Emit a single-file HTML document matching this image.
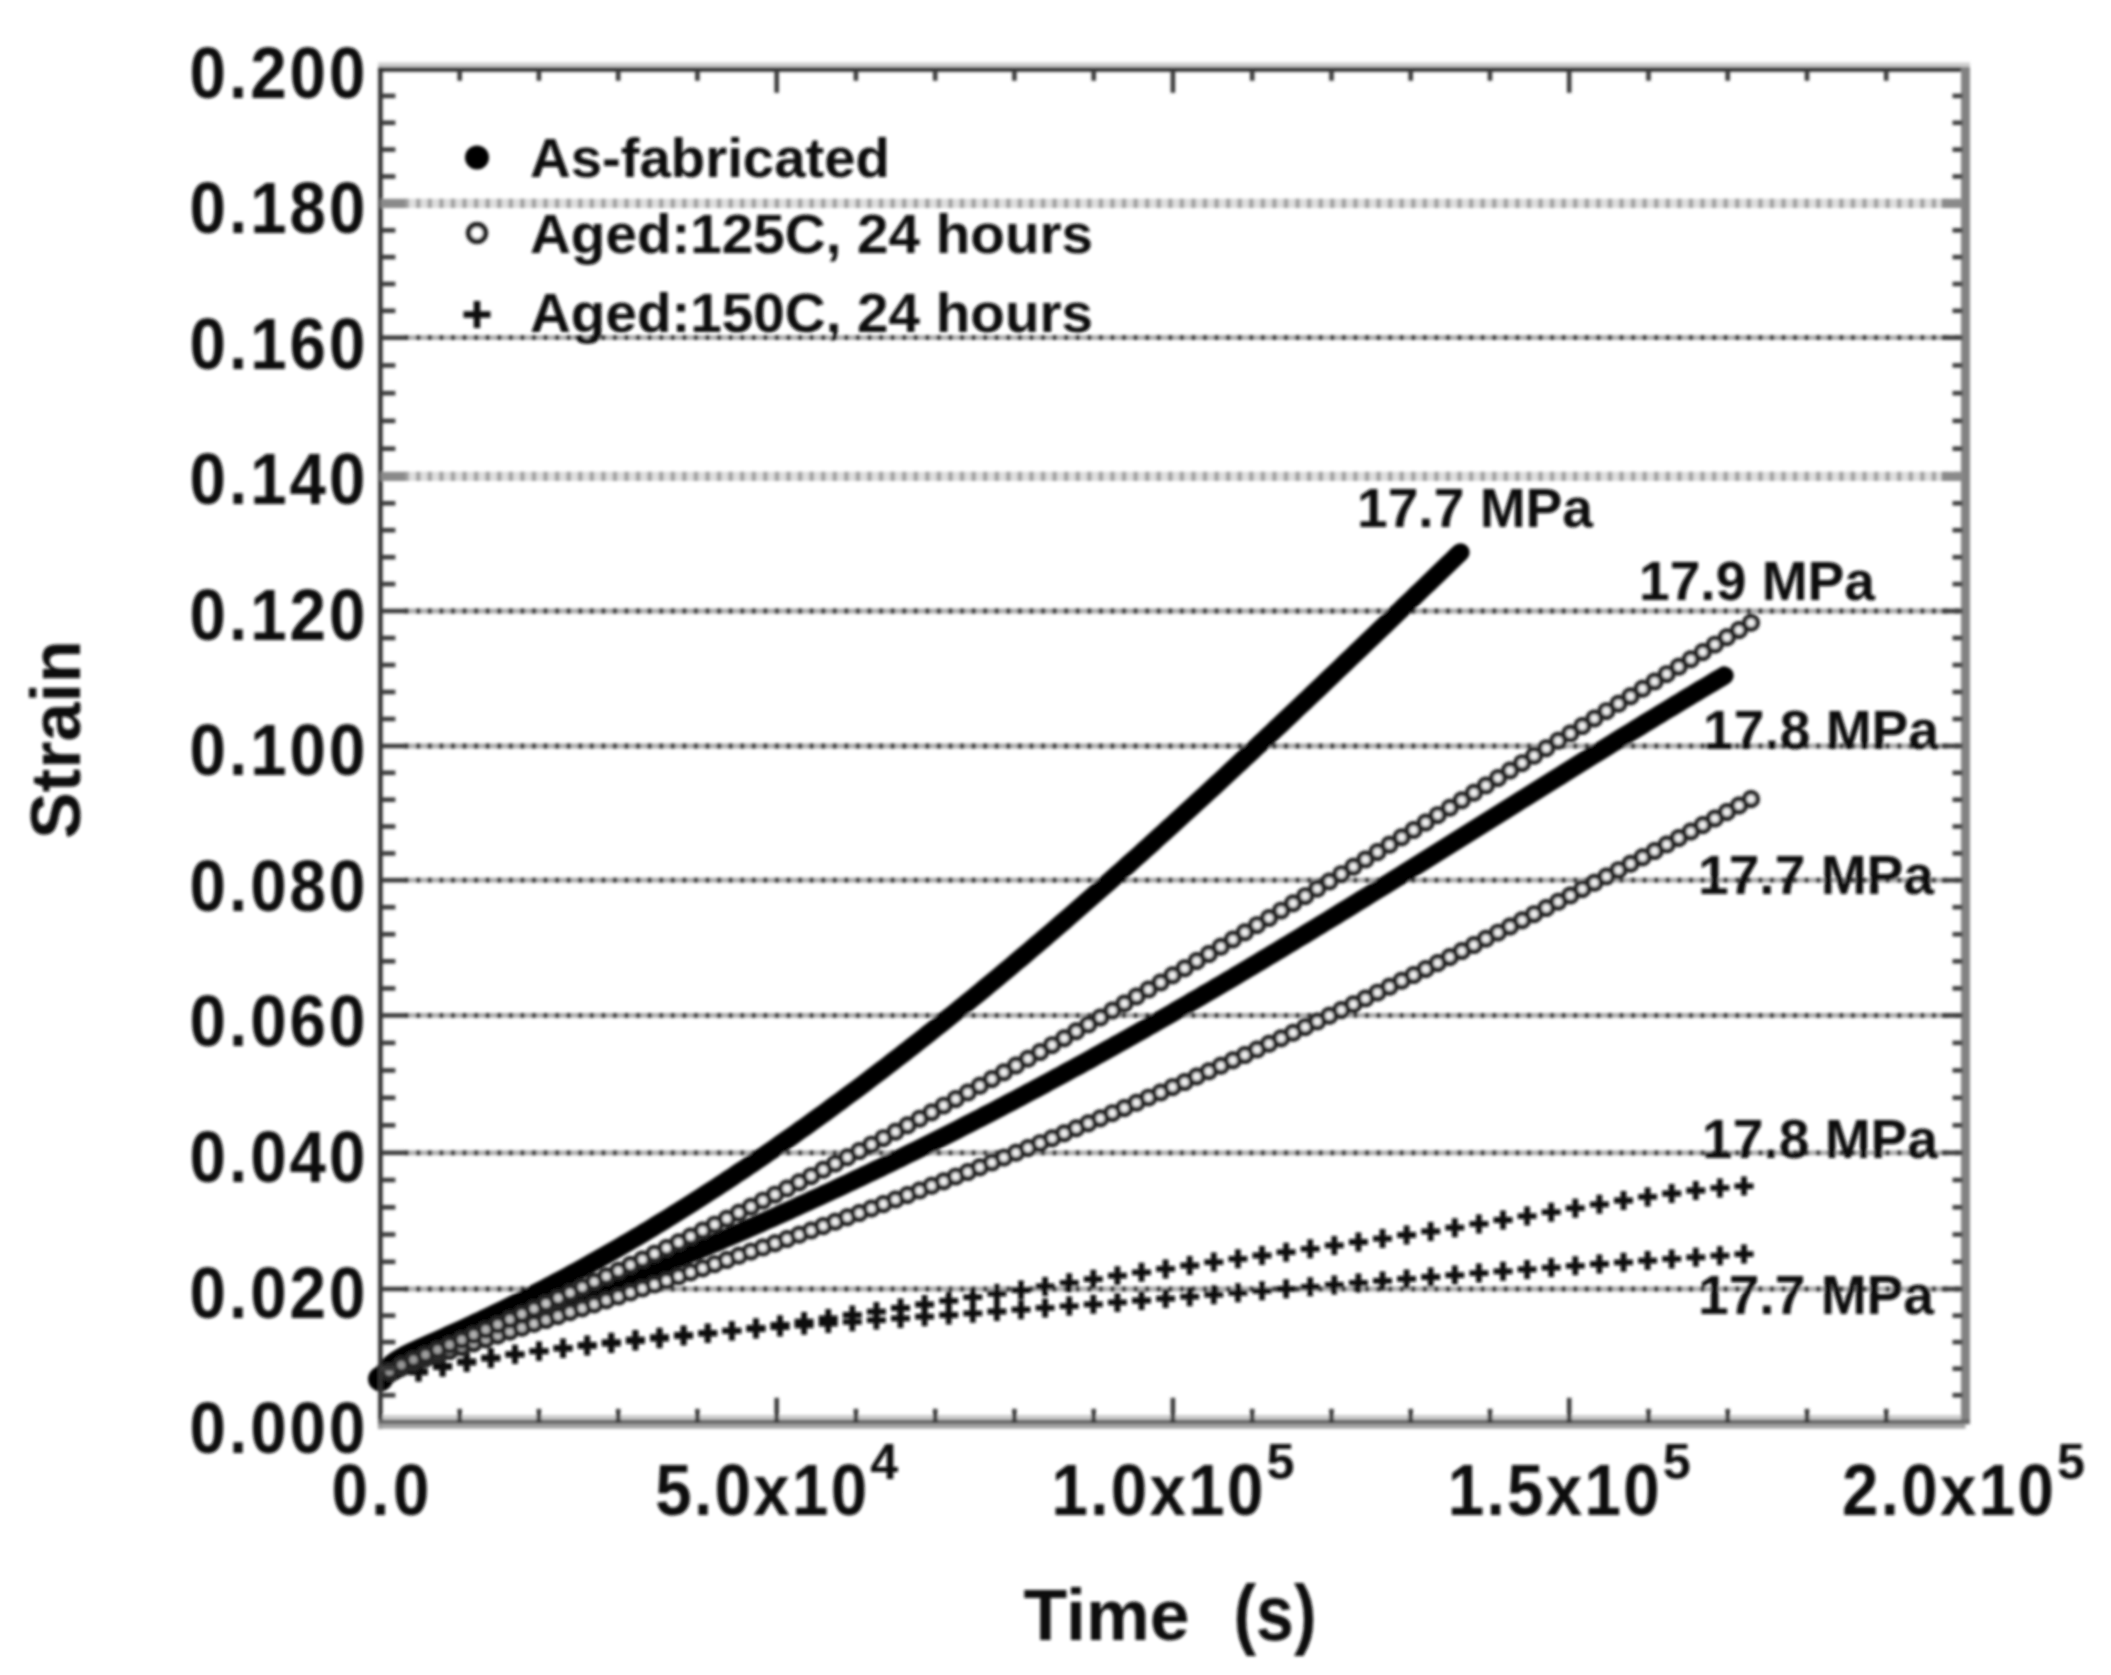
<!DOCTYPE html>
<html lang="en"><head><meta charset="utf-8"><title>Creep strain vs time</title>
<style>html,body{margin:0;padding:0;background:#fff}body{width:2111px;height:1675px;overflow:hidden}svg{display:block}text{font-family:"Liberation Sans", Arial, Helvetica, sans-serif;font-weight:bold;fill:#111}</style></head><body>
<svg width="2111" height="1675" viewBox="0 0 2111 1675">
<defs><filter id="bl" x="-2%" y="-2%" width="104%" height="104%"><feGaussianBlur stdDeviation="1.8"/></filter></defs>
<rect width="2111" height="1675" fill="#fff"/>
<g filter="url(#bl)">
<g id="grid">
<line x1="404.4" y1="203.4" x2="1961.5" y2="203.4" stroke="#dedede" stroke-width="9.2"/>
<line x1="404.4" y1="203.4" x2="1961.5" y2="203.4" stroke="#a2a2a2" stroke-width="9.2" stroke-dasharray="4.6 6.97"/>
<line x1="404.4" y1="337.7" x2="1961.5" y2="337.7" stroke="#b0b0b0" stroke-width="4.8"/>
<line x1="404.4" y1="337.7" x2="1961.5" y2="337.7" stroke="#383838" stroke-width="4.8" stroke-dasharray="4.6 6.97"/>
<line x1="404.4" y1="476.4" x2="1961.5" y2="476.4" stroke="#dedede" stroke-width="9.2"/>
<line x1="404.4" y1="476.4" x2="1961.5" y2="476.4" stroke="#a2a2a2" stroke-width="9.2" stroke-dasharray="4.6 6.97"/>
<line x1="404.4" y1="611.0" x2="1961.5" y2="611.0" stroke="#b0b0b0" stroke-width="4.8"/>
<line x1="404.4" y1="611.0" x2="1961.5" y2="611.0" stroke="#383838" stroke-width="4.8" stroke-dasharray="4.6 6.97"/>
<line x1="404.4" y1="746.0" x2="1961.5" y2="746.0" stroke="#b0b0b0" stroke-width="4.8"/>
<line x1="404.4" y1="746.0" x2="1961.5" y2="746.0" stroke="#383838" stroke-width="4.8" stroke-dasharray="4.6 6.97"/>
<line x1="404.4" y1="880.2" x2="1961.5" y2="880.2" stroke="#b0b0b0" stroke-width="4.8"/>
<line x1="404.4" y1="880.2" x2="1961.5" y2="880.2" stroke="#383838" stroke-width="4.8" stroke-dasharray="4.6 6.97"/>
<line x1="404.4" y1="1015.4" x2="1961.5" y2="1015.4" stroke="#b0b0b0" stroke-width="4.8"/>
<line x1="404.4" y1="1015.4" x2="1961.5" y2="1015.4" stroke="#383838" stroke-width="4.8" stroke-dasharray="4.6 6.97"/>
<line x1="404.4" y1="1152.8" x2="1961.5" y2="1152.8" stroke="#b0b0b0" stroke-width="4.8"/>
<line x1="404.4" y1="1152.8" x2="1961.5" y2="1152.8" stroke="#383838" stroke-width="4.8" stroke-dasharray="4.6 6.97"/>
<line x1="404.4" y1="1289.0" x2="1961.5" y2="1289.0" stroke="#b0b0b0" stroke-width="4.8"/>
<line x1="404.4" y1="1289.0" x2="1961.5" y2="1289.0" stroke="#383838" stroke-width="4.8" stroke-dasharray="4.6 6.97"/>
</g>
<g id="series-plus">
<path d="M1734.5 1254.1h19.0M1744.0 1244.6v19.0M1710.4 1255.7h19.0M1719.9 1246.2v19.0M1686.3 1257.3h19.0M1695.8 1247.8v19.0M1662.2 1258.9h19.0M1671.7 1249.4v19.0M1638.1 1260.6h19.0M1647.6 1251.1v19.0M1614.0 1262.3h19.0M1623.5 1252.8v19.0M1589.9 1264.0h19.0M1599.4 1254.5v19.0M1565.8 1265.8h19.0M1575.3 1256.3v19.0M1541.7 1267.6h19.0M1551.2 1258.1v19.0M1517.6 1269.4h19.0M1527.1 1259.9v19.0M1493.5 1271.3h19.0M1503.0 1261.8v19.0M1469.4 1273.1h19.0M1478.9 1263.6v19.0M1445.3 1275.1h19.0M1454.8 1265.6v19.0M1421.2 1277.0h19.0M1430.7 1267.5v19.0M1397.1 1278.9h19.0M1406.6 1269.4v19.0M1373.0 1280.9h19.0M1382.5 1271.4v19.0M1348.9 1282.9h19.0M1358.4 1273.4v19.0M1324.8 1284.9h19.0M1334.3 1275.4v19.0M1300.7 1286.8h19.0M1310.2 1277.3v19.0M1276.6 1288.8h19.0M1286.1 1279.3v19.0M1252.5 1290.8h19.0M1262.0 1281.3v19.0M1228.4 1292.8h19.0M1237.9 1283.3v19.0M1204.3 1294.7h19.0M1213.8 1285.2v19.0M1180.2 1296.7h19.0M1189.7 1287.2v19.0M1156.1 1298.6h19.0M1165.6 1289.1v19.0M1132.0 1300.5h19.0M1141.5 1291.0v19.0M1107.9 1302.4h19.0M1117.4 1292.9v19.0M1083.8 1304.3h19.0M1093.3 1294.8v19.0M1059.7 1306.1h19.0M1069.2 1296.6v19.0M1035.6 1307.9h19.0M1045.1 1298.4v19.0M1011.5 1309.7h19.0M1021.0 1300.2v19.0M987.4 1311.5h19.0M996.9 1302.0v19.0M963.3 1313.3h19.0M972.8 1303.8v19.0M939.2 1315.0h19.0M948.7 1305.5v19.0M915.1 1316.7h19.0M924.6 1307.2v19.0M891.0 1318.4h19.0M900.5 1308.9v19.0M866.9 1320.1h19.0M876.4 1310.6v19.0M842.8 1321.8h19.0M852.3 1312.3v19.0M818.7 1323.6h19.0M828.2 1314.1v19.0M794.6 1325.3h19.0M804.1 1315.8v19.0M770.5 1327.1h19.0M780.0 1317.6v19.0M746.4 1329.0h19.0M755.9 1319.5v19.0M722.3 1330.9h19.0M731.8 1321.4v19.0M698.2 1332.9h19.0M707.7 1323.4v19.0M674.1 1335.0h19.0M683.6 1325.5v19.0M650.0 1337.2h19.0M659.5 1327.7v19.0M625.9 1339.6h19.0M635.4 1330.1v19.0M601.8 1342.2h19.0M611.3 1332.7v19.0M577.7 1344.9h19.0M587.2 1335.4v19.0M553.6 1347.9h19.0M563.1 1338.4v19.0M529.5 1351.1h19.0M539.0 1341.6v19.0M505.4 1354.6h19.0M514.9 1345.1v19.0M481.3 1358.5h19.0M490.8 1349.0v19.0M457.2 1362.6h19.0M466.7 1353.1v19.0M433.1 1367.2h19.0M442.6 1357.7v19.0M409.0 1372.3h19.0M418.5 1362.8v19.0" stroke="#0c0c0c" stroke-width="5.8" fill="none"/>
<path d="M1734.5 1186.1h19.0M1744.0 1176.6v19.0M1710.4 1187.9h19.0M1719.9 1178.4v19.0M1686.3 1190.5h19.0M1695.8 1181.0v19.0M1662.2 1193.5h19.0M1671.7 1184.0v19.0M1638.1 1196.9h19.0M1647.6 1187.4v19.0M1614.0 1200.5h19.0M1623.5 1191.0v19.0M1589.9 1204.3h19.0M1599.4 1194.8v19.0M1565.8 1208.2h19.0M1575.3 1198.7v19.0M1541.7 1212.2h19.0M1551.2 1202.7v19.0M1517.6 1216.1h19.0M1527.1 1206.6v19.0M1493.5 1220.0h19.0M1503.0 1210.5v19.0M1469.4 1223.9h19.0M1478.9 1214.4v19.0M1445.3 1227.7h19.0M1454.8 1218.2v19.0M1421.2 1231.4h19.0M1430.7 1221.9v19.0M1397.1 1235.0h19.0M1406.6 1225.5v19.0M1373.0 1238.6h19.0M1382.5 1229.1v19.0M1348.9 1242.0h19.0M1358.4 1232.5v19.0M1324.8 1245.4h19.0M1334.3 1235.9v19.0M1300.7 1248.8h19.0M1310.2 1239.3v19.0M1276.6 1252.2h19.0M1286.1 1242.7v19.0M1252.5 1255.5h19.0M1262.0 1246.0v19.0M1228.4 1258.8h19.0M1237.9 1249.3v19.0M1204.3 1262.1h19.0M1213.8 1252.6v19.0M1180.2 1265.5h19.0M1189.7 1256.0v19.0M1156.1 1268.9h19.0M1165.6 1259.4v19.0M1132.0 1272.3h19.0M1141.5 1262.8v19.0M1107.9 1275.7h19.0M1117.4 1266.2v19.0M1083.8 1279.2h19.0M1093.3 1269.7v19.0M1059.7 1282.8h19.0M1069.2 1273.3v19.0M1035.6 1286.4h19.0M1045.1 1276.9v19.0M1011.5 1290.0h19.0M1021.0 1280.5v19.0M987.4 1293.6h19.0M996.9 1284.1v19.0M963.3 1297.2h19.0M972.8 1287.7v19.0M939.2 1300.9h19.0M948.7 1291.4v19.0M915.1 1304.5h19.0M924.6 1295.0v19.0M891.0 1308.0h19.0M900.5 1298.5v19.0M866.9 1311.6h19.0M876.4 1302.1v19.0M842.8 1315.0h19.0M852.3 1305.5v19.0M818.7 1318.4h19.0M828.2 1308.9v19.0M794.6 1321.6h19.0M804.1 1312.1v19.0M770.5 1324.8h19.0M780.0 1315.3v19.0M746.4 1327.8h19.0M755.9 1318.3v19.0M722.3 1330.7h19.0M731.8 1321.2v19.0M698.2 1333.5h19.0M707.7 1324.0v19.0M674.1 1336.1h19.0M683.6 1326.6v19.0M650.0 1338.7h19.0M659.5 1329.2v19.0M625.9 1341.1h19.0M635.4 1331.6v19.0M601.8 1343.6h19.0M611.3 1334.1v19.0M577.7 1346.0h19.0M587.2 1336.5v19.0M553.6 1348.6h19.0M563.1 1339.1v19.0M529.5 1351.3h19.0M539.0 1341.8v19.0M505.4 1354.2h19.0M514.9 1344.7v19.0M481.3 1357.6h19.0M490.8 1348.1v19.0M457.2 1361.5h19.0M466.7 1352.0v19.0M433.1 1366.0h19.0M442.6 1356.5v19.0M409.0 1371.5h19.0M418.5 1362.0v19.0" stroke="#0c0c0c" stroke-width="5.8" fill="none"/>
</g>
<g id="series-filled" fill="none" stroke="#060606" stroke-width="18.5" stroke-linecap="round" stroke-linejoin="round">
<path d="M380.4 1378.0 L384.4 1371.4 L388.4 1366.6 L392.4 1362.9 L396.4 1360.0 L400.4 1357.5 L404.4 1355.3 L408.4 1353.3 L412.4 1351.4 L416.4 1349.5 L420.4 1347.7 L424.4 1346.0 L428.4 1344.2 L432.4 1342.4 L436.4 1340.7 L440.4 1338.9 L444.4 1337.1 L448.4 1335.3 L452.4 1333.5 L456.4 1331.7 L460.4 1329.9 L464.4 1328.0 L468.4 1326.2 L472.4 1324.3 L476.4 1322.4 L480.4 1320.6 L484.4 1318.7 L488.4 1316.7 L492.4 1314.8 L496.4 1312.9 L500.4 1310.9 L504.4 1309.0 L508.4 1307.0 L512.4 1305.0 L516.4 1303.0 L520.4 1301.0 L524.4 1299.0 L528.4 1296.9 L532.4 1294.9 L536.4 1292.8 L540.4 1290.7 L544.4 1288.6 L548.4 1286.5 L552.4 1284.4 L556.4 1282.3 L560.4 1280.2 L564.4 1278.0 L568.4 1275.9 L572.4 1273.7 L576.4 1271.5 L580.4 1269.3 L584.4 1267.1 L588.4 1264.9 L592.4 1262.6 L596.4 1260.4 L600.4 1258.1 L604.4 1255.9 L608.4 1253.6 L612.4 1251.3 L616.4 1249.0 L620.4 1246.6 L624.4 1244.3 L628.4 1242.0 L632.4 1239.6 L636.4 1237.2 L640.4 1234.9 L644.4 1232.5 L648.4 1230.1 L652.4 1227.7 L656.4 1225.2 L660.4 1222.8 L664.4 1220.3 L668.4 1217.9 L672.4 1215.4 L676.4 1212.9 L680.4 1210.4 L684.4 1207.9 L688.4 1205.4 L692.4 1202.9 L696.4 1200.3 L700.4 1197.7 L704.4 1195.2 L708.4 1192.6 L712.4 1190.0 L716.4 1187.4 L720.4 1184.8 L724.4 1182.2 L728.4 1179.5 L732.4 1176.9 L736.4 1174.2 L740.4 1171.5 L744.4 1168.9 L748.4 1166.2 L752.4 1163.5 L756.4 1160.7 L760.4 1158.0 L764.4 1155.3 L768.4 1152.5 L772.4 1149.8 L776.4 1147.0 L780.4 1144.2 L784.4 1141.4 L788.4 1138.6 L792.4 1135.8 L796.4 1133.0 L800.4 1130.1 L804.4 1127.3 L808.4 1124.4 L812.4 1121.5 L816.4 1118.7 L820.4 1115.8 L824.4 1112.9 L828.4 1110.0 L832.4 1107.0 L836.4 1104.1 L840.4 1101.2 L844.4 1098.2 L848.4 1095.2 L852.4 1092.3 L856.4 1089.3 L860.4 1086.3 L864.4 1083.3 L868.4 1080.2 L872.4 1077.2 L876.4 1074.2 L880.4 1071.1 L884.4 1068.1 L888.4 1065.0 L892.4 1061.9 L896.4 1058.8 L900.4 1055.7 L904.4 1052.6 L908.4 1049.5 L912.4 1046.4 L916.4 1043.3 L920.4 1040.1 L924.4 1037.0 L928.4 1033.8 L932.4 1030.6 L936.4 1027.4 L940.4 1024.2 L944.4 1021.0 L948.4 1017.8 L952.4 1014.6 L956.4 1011.4 L960.4 1008.1 L964.4 1004.9 L968.4 1001.6 L972.4 998.4 L976.4 995.1 L980.4 991.8 L984.4 988.5 L988.4 985.2 L992.4 981.9 L996.4 978.6 L1000.4 975.2 L1004.4 971.9 L1008.4 968.6 L1012.4 965.2 L1016.4 961.8 L1020.4 958.5 L1024.4 955.1 L1028.4 951.7 L1032.4 948.3 L1036.4 944.9 L1040.4 941.5 L1044.4 938.1 L1048.4 934.6 L1052.4 931.2 L1056.4 927.8 L1060.4 924.3 L1064.4 920.9 L1068.4 917.4 L1072.4 913.9 L1076.4 910.4 L1080.4 906.9 L1084.4 903.4 L1088.4 899.9 L1092.4 896.4 L1096.4 892.9 L1100.4 889.4 L1104.4 885.9 L1108.4 882.3 L1112.4 878.8 L1116.4 875.2 L1120.4 871.7 L1124.4 868.1 L1128.4 864.5 L1132.4 860.9 L1136.4 857.4 L1140.4 853.8 L1144.4 850.2 L1148.4 846.6 L1152.4 843.0 L1156.4 839.3 L1160.4 835.7 L1164.4 832.1 L1168.4 828.4 L1172.4 824.8 L1176.4 821.2 L1180.4 817.5 L1184.4 813.8 L1188.4 810.2 L1192.4 806.5 L1196.4 802.8 L1200.4 799.2 L1204.4 795.5 L1208.4 791.8 L1212.4 788.1 L1216.4 784.4 L1220.4 780.7 L1224.4 777.0 L1228.4 773.3 L1232.4 769.5 L1236.4 765.8 L1240.4 762.1 L1244.4 758.3 L1248.4 754.6 L1252.4 750.9 L1256.4 747.1 L1260.4 743.4 L1264.4 739.6 L1268.4 735.9 L1272.4 732.1 L1276.4 728.3 L1280.4 724.6 L1284.4 720.8 L1288.4 717.0 L1292.4 713.2 L1296.4 709.4 L1300.4 705.6 L1304.4 701.9 L1308.4 698.1 L1312.4 694.3 L1316.4 690.5 L1320.4 686.7 L1324.4 682.8 L1328.4 679.0 L1332.4 675.2 L1336.4 671.4 L1340.4 667.6 L1344.4 663.8 L1348.4 659.9 L1352.4 656.1 L1356.4 652.3 L1360.4 648.5 L1364.4 644.6 L1368.4 640.8 L1372.4 637.0 L1376.4 633.1 L1380.4 629.3 L1384.4 625.5 L1388.4 621.6 L1392.4 617.8 L1396.4 613.9 L1400.4 610.1 L1404.4 606.2 L1408.4 602.4 L1412.4 598.6 L1416.4 594.7 L1420.4 590.9 L1424.4 587.0 L1428.4 583.2 L1432.4 579.3 L1436.4 575.5 L1440.4 571.6 L1444.4 567.8 L1448.4 563.9 L1452.4 560.1 L1456.4 556.2 L1460.4 552.4"/>
<path d="M380.4 1381.5 L384.4 1377.5 L388.4 1374.4 L392.4 1371.9 L396.4 1369.7 L400.4 1367.8 L404.4 1366.0 L408.4 1364.4 L412.4 1362.8 L416.4 1361.2 L420.4 1359.7 L424.4 1358.1 L428.4 1356.6 L432.4 1355.1 L436.4 1353.6 L440.4 1352.1 L444.4 1350.6 L448.4 1349.1 L452.4 1347.6 L456.4 1346.1 L460.4 1344.6 L464.4 1343.1 L468.4 1341.6 L472.4 1340.0 L476.4 1338.5 L480.4 1337.0 L484.4 1335.5 L488.4 1334.0 L492.4 1332.5 L496.4 1330.9 L500.4 1329.4 L504.4 1327.9 L508.4 1326.4 L512.4 1324.8 L516.4 1323.3 L520.4 1321.7 L524.4 1320.2 L528.4 1318.7 L532.4 1317.1 L536.4 1315.6 L540.4 1314.0 L544.4 1312.5 L548.4 1310.9 L552.4 1309.4 L556.4 1307.8 L560.4 1306.2 L564.4 1304.7 L568.4 1303.1 L572.4 1301.5 L576.4 1299.9 L580.4 1298.4 L584.4 1296.8 L588.4 1295.2 L592.4 1293.6 L596.4 1292.0 L600.4 1290.4 L604.4 1288.8 L608.4 1287.2 L612.4 1285.6 L616.4 1284.0 L620.4 1282.4 L624.4 1280.8 L628.4 1279.1 L632.4 1277.5 L636.4 1275.9 L640.4 1274.2 L644.4 1272.6 L648.4 1271.0 L652.4 1269.3 L656.4 1267.7 L660.4 1266.0 L664.4 1264.3 L668.4 1262.7 L672.4 1261.0 L676.4 1259.3 L680.4 1257.7 L684.4 1256.0 L688.4 1254.3 L692.4 1252.6 L696.4 1250.9 L700.4 1249.2 L704.4 1247.5 L708.4 1245.8 L712.4 1244.1 L716.4 1242.4 L720.4 1240.7 L724.4 1238.9 L728.4 1237.2 L732.4 1235.5 L736.4 1233.7 L740.4 1232.0 L744.4 1230.2 L748.4 1228.5 L752.4 1226.7 L756.4 1225.0 L760.4 1223.2 L764.4 1221.4 L768.4 1219.6 L772.4 1217.9 L776.4 1216.1 L780.4 1214.3 L784.4 1212.5 L788.4 1210.7 L792.4 1208.9 L796.4 1207.1 L800.4 1205.2 L804.4 1203.4 L808.4 1201.6 L812.4 1199.7 L816.4 1197.9 L820.4 1196.1 L824.4 1194.2 L828.4 1192.4 L832.4 1190.5 L836.4 1188.6 L840.4 1186.8 L844.4 1184.9 L848.4 1183.0 L852.4 1181.1 L856.4 1179.2 L860.4 1177.3 L864.4 1175.4 L868.4 1173.5 L872.4 1171.6 L876.4 1169.7 L880.4 1167.8 L884.4 1165.8 L888.4 1163.9 L892.4 1161.9 L896.4 1160.0 L900.4 1158.1 L904.4 1156.1 L908.4 1154.1 L912.4 1152.2 L916.4 1150.2 L920.4 1148.2 L924.4 1146.2 L928.4 1144.2 L932.4 1142.2 L936.4 1140.2 L940.4 1138.2 L944.4 1136.2 L948.4 1134.2 L952.4 1132.2 L956.4 1130.2 L960.4 1128.1 L964.4 1126.1 L968.4 1124.0 L972.4 1122.0 L976.4 1119.9 L980.4 1117.9 L984.4 1115.8 L988.4 1113.7 L992.4 1111.7 L996.4 1109.6 L1000.4 1107.5 L1004.4 1105.4 L1008.4 1103.3 L1012.4 1101.2 L1016.4 1099.1 L1020.4 1097.0 L1024.4 1094.9 L1028.4 1092.7 L1032.4 1090.6 L1036.4 1088.5 L1040.4 1086.3 L1044.4 1084.2 L1048.4 1082.0 L1052.4 1079.9 L1056.4 1077.7 L1060.4 1075.6 L1064.4 1073.4 L1068.4 1071.2 L1072.4 1069.0 L1076.4 1066.8 L1080.4 1064.7 L1084.4 1062.5 L1088.4 1060.3 L1092.4 1058.1 L1096.4 1055.8 L1100.4 1053.6 L1104.4 1051.4 L1108.4 1049.2 L1112.4 1046.9 L1116.4 1044.7 L1120.4 1042.5 L1124.4 1040.2 L1128.4 1038.0 L1132.4 1035.7 L1136.4 1033.5 L1140.4 1031.2 L1144.4 1028.9 L1148.4 1026.6 L1152.4 1024.4 L1156.4 1022.1 L1160.4 1019.8 L1164.4 1017.5 L1168.4 1015.2 L1172.4 1012.9 L1176.4 1010.6 L1180.4 1008.3 L1184.4 1006.0 L1188.4 1003.7 L1192.4 1001.3 L1196.4 999.0 L1200.4 996.7 L1204.4 994.3 L1208.4 992.0 L1212.4 989.7 L1216.4 987.3 L1220.4 985.0 L1224.4 982.6 L1228.4 980.2 L1232.4 977.9 L1236.4 975.5 L1240.4 973.1 L1244.4 970.8 L1248.4 968.4 L1252.4 966.0 L1256.4 963.6 L1260.4 961.2 L1264.4 958.8 L1268.4 956.4 L1272.4 954.0 L1276.4 951.6 L1280.4 949.2 L1284.4 946.8 L1288.4 944.4 L1292.4 942.0 L1296.4 939.5 L1300.4 937.1 L1304.4 934.7 L1308.4 932.3 L1312.4 929.8 L1316.4 927.4 L1320.4 925.0 L1324.4 922.5 L1328.4 920.1 L1332.4 917.6 L1336.4 915.2 L1340.4 912.7 L1344.4 910.3 L1348.4 907.8 L1352.4 905.3 L1356.4 902.9 L1360.4 900.4 L1364.4 898.0 L1368.4 895.5 L1372.4 893.0 L1376.4 890.5 L1380.4 888.1 L1384.4 885.6 L1388.4 883.1 L1392.4 880.6 L1396.4 878.1 L1400.4 875.7 L1404.4 873.2 L1408.4 870.7 L1412.4 868.2 L1416.4 865.7 L1420.4 863.2 L1424.4 860.7 L1428.4 858.2 L1432.4 855.7 L1436.4 853.2 L1440.4 850.7 L1444.4 848.2 L1448.4 845.7 L1452.4 843.2 L1456.4 840.7 L1460.4 838.2 L1464.4 835.7 L1468.4 833.2 L1472.4 830.7 L1476.4 828.2 L1480.4 825.7 L1484.4 823.2 L1488.4 820.7 L1492.4 818.2 L1496.4 815.7 L1500.4 813.2 L1504.4 810.7 L1508.4 808.2 L1512.4 805.7 L1516.4 803.2 L1520.4 800.6 L1524.4 798.1 L1528.4 795.6 L1532.4 793.1 L1536.4 790.6 L1540.4 788.1 L1544.4 785.6 L1548.4 783.1 L1552.4 780.6 L1556.4 778.1 L1560.4 775.7 L1564.4 773.2 L1568.4 770.7 L1572.4 768.2 L1576.4 765.7 L1580.4 763.2 L1584.4 760.7 L1588.4 758.2 L1592.4 755.7 L1596.4 753.3 L1600.4 750.8 L1604.4 748.3 L1608.4 745.8 L1612.4 743.4 L1616.4 740.9 L1620.4 738.4 L1624.4 736.0 L1628.4 733.5 L1632.4 731.1 L1636.4 728.6 L1640.4 726.2 L1644.4 723.7 L1648.4 721.3 L1652.4 718.8 L1656.4 716.4 L1660.4 714.0 L1664.4 711.5 L1668.4 709.1 L1672.4 706.7 L1676.4 704.3 L1680.4 701.9 L1684.4 699.4 L1688.4 697.0 L1692.4 694.6 L1696.4 692.2 L1700.4 689.8 L1704.4 687.5 L1708.4 685.1 L1712.4 682.7 L1716.4 680.3 L1720.4 678.0 L1724.4 675.6"/>
</g>
<circle cx="380.5" cy="1379" r="12.5" fill="#060606"/>
<g id="series-open">
<g fill="#ececec" stroke="#262626" stroke-width="5.2"><circle cx="389.4" cy="1372.3" r="6.6" fill="#969696"/><circle cx="401.4" cy="1366.8" r="6.6" fill="#969696"/><circle cx="413.5" cy="1362.6" r="6.6" fill="#9a9a9a"/><circle cx="425.5" cy="1358.6" r="6.6" fill="#9e9e9e"/><circle cx="437.6" cy="1354.7" r="6.6" fill="#a2a2a2"/><circle cx="449.6" cy="1350.9" r="6.6" fill="#a6a6a6"/><circle cx="461.7" cy="1347.0" r="6.6" fill="#aaaaaa"/><circle cx="473.7" cy="1343.2" r="6.6" fill="#aeaeae"/><circle cx="485.8" cy="1339.3" r="6.6" fill="#b2b2b2"/><circle cx="497.8" cy="1335.5" r="6.6" fill="#b6b6b6"/><circle cx="509.9" cy="1331.6" r="6.6" fill="#bababa"/><circle cx="521.9" cy="1327.7" r="6.6" fill="#bebebe"/><circle cx="534.0" cy="1323.8" r="6.6" fill="#c2c2c2"/><circle cx="546.0" cy="1319.9" r="6.6" fill="#c6c6c6"/><circle cx="558.1" cy="1316.1" r="6.6" fill="#cacaca"/><circle cx="570.1" cy="1312.1" r="6.6" fill="#cecece"/><circle cx="582.2" cy="1308.2" r="6.6" fill="#d2d2d2"/><circle cx="594.2" cy="1304.3" r="6.6" fill="#d6d6d6"/><circle cx="606.3" cy="1300.3" r="6.6" fill="#dadada"/><circle cx="618.3" cy="1296.4" r="6.6" fill="#dedede"/><circle cx="630.4" cy="1292.4" r="6.6" fill="#e2e2e2"/><circle cx="642.4" cy="1288.4" r="6.6" fill="#e6e6e6"/><circle cx="654.5" cy="1284.4" r="6.6" fill="#eaeaea"/><circle cx="666.5" cy="1280.4" r="6.6"/><circle cx="678.6" cy="1276.3" r="6.6"/><circle cx="690.6" cy="1272.3" r="6.6"/><circle cx="702.7" cy="1268.2" r="6.6"/><circle cx="714.7" cy="1264.1" r="6.6"/><circle cx="726.8" cy="1259.9" r="6.6"/><circle cx="738.8" cy="1255.8" r="6.6"/><circle cx="750.9" cy="1251.6" r="6.6"/><circle cx="762.9" cy="1247.4" r="6.6"/><circle cx="775.0" cy="1243.2" r="6.6"/><circle cx="787.0" cy="1238.9" r="6.6"/><circle cx="799.1" cy="1234.7" r="6.6"/><circle cx="811.1" cy="1230.4" r="6.6"/><circle cx="823.2" cy="1226.0" r="6.6"/><circle cx="835.2" cy="1221.7" r="6.6"/><circle cx="847.3" cy="1217.3" r="6.6"/><circle cx="859.3" cy="1212.9" r="6.6"/><circle cx="871.4" cy="1208.5" r="6.6"/><circle cx="883.4" cy="1204.0" r="6.6"/><circle cx="895.5" cy="1199.5" r="6.6"/><circle cx="907.5" cy="1195.0" r="6.6"/><circle cx="919.6" cy="1190.4" r="6.6"/><circle cx="931.6" cy="1185.8" r="6.6"/><circle cx="943.7" cy="1181.2" r="6.6"/><circle cx="955.7" cy="1176.6" r="6.6"/><circle cx="967.8" cy="1171.9" r="6.6"/><circle cx="979.8" cy="1167.2" r="6.6"/><circle cx="991.9" cy="1162.4" r="6.6"/><circle cx="1003.9" cy="1157.6" r="6.6"/><circle cx="1016.0" cy="1152.8" r="6.6"/><circle cx="1028.0" cy="1148.0" r="6.6"/><circle cx="1040.1" cy="1143.1" r="6.6"/><circle cx="1052.1" cy="1138.2" r="6.6"/><circle cx="1064.2" cy="1133.2" r="6.6"/><circle cx="1076.2" cy="1128.2" r="6.6"/><circle cx="1088.3" cy="1123.2" r="6.6"/><circle cx="1100.3" cy="1118.2" r="6.6"/><circle cx="1112.4" cy="1113.1" r="6.6"/><circle cx="1124.4" cy="1108.0" r="6.6"/><circle cx="1136.5" cy="1102.8" r="6.6"/><circle cx="1148.5" cy="1097.6" r="6.6"/><circle cx="1160.6" cy="1092.4" r="6.6"/><circle cx="1172.6" cy="1087.1" r="6.6"/><circle cx="1184.7" cy="1081.9" r="6.6"/><circle cx="1196.7" cy="1076.5" r="6.6"/><circle cx="1208.8" cy="1071.2" r="6.6"/><circle cx="1220.8" cy="1065.8" r="6.6"/><circle cx="1232.9" cy="1060.3" r="6.6"/><circle cx="1244.9" cy="1054.9" r="6.6"/><circle cx="1257.0" cy="1049.4" r="6.6"/><circle cx="1269.0" cy="1043.8" r="6.6"/><circle cx="1281.1" cy="1038.3" r="6.6"/><circle cx="1293.1" cy="1032.7" r="6.6"/><circle cx="1305.2" cy="1027.0" r="6.6"/><circle cx="1317.2" cy="1021.4" r="6.6"/><circle cx="1329.3" cy="1015.7" r="6.6"/><circle cx="1341.3" cy="1010.0" r="6.6"/><circle cx="1353.4" cy="1004.2" r="6.6"/><circle cx="1365.4" cy="998.4" r="6.6"/><circle cx="1377.5" cy="992.6" r="6.6"/><circle cx="1389.5" cy="986.7" r="6.6"/><circle cx="1401.6" cy="980.8" r="6.6"/><circle cx="1413.6" cy="974.9" r="6.6"/><circle cx="1425.7" cy="969.0" r="6.6"/><circle cx="1437.7" cy="963.0" r="6.6"/><circle cx="1449.8" cy="957.0" r="6.6"/><circle cx="1461.8" cy="950.9" r="6.6"/><circle cx="1473.9" cy="944.9" r="6.6"/><circle cx="1485.9" cy="938.8" r="6.6"/><circle cx="1498.0" cy="932.6" r="6.6"/><circle cx="1510.0" cy="926.5" r="6.6"/><circle cx="1522.1" cy="920.3" r="6.6"/><circle cx="1534.1" cy="914.1" r="6.6"/><circle cx="1546.2" cy="907.9" r="6.6"/><circle cx="1558.2" cy="901.7" r="6.6"/><circle cx="1570.3" cy="895.4" r="6.6"/><circle cx="1582.3" cy="889.1" r="6.6"/><circle cx="1594.4" cy="882.8" r="6.6"/><circle cx="1606.4" cy="876.4" r="6.6"/><circle cx="1618.5" cy="870.1" r="6.6"/><circle cx="1630.5" cy="863.7" r="6.6"/><circle cx="1642.6" cy="857.3" r="6.6"/><circle cx="1654.6" cy="850.9" r="6.6"/><circle cx="1666.7" cy="844.4" r="6.6"/><circle cx="1678.7" cy="838.0" r="6.6"/><circle cx="1690.8" cy="831.5" r="6.6"/><circle cx="1702.8" cy="825.0" r="6.6"/><circle cx="1714.9" cy="818.5" r="6.6"/><circle cx="1726.9" cy="812.0" r="6.6"/><circle cx="1739.0" cy="805.5" r="6.6"/><circle cx="1751.0" cy="799.0" r="6.6"/></g>
<g fill="#ececec" stroke="#262626" stroke-width="5.2"><circle cx="389.4" cy="1371.5" r="6.6" fill="#969696"/><circle cx="401.4" cy="1365.0" r="6.6" fill="#969696"/><circle cx="413.5" cy="1359.8" r="6.6" fill="#9a9a9a"/><circle cx="425.5" cy="1354.8" r="6.6" fill="#9e9e9e"/><circle cx="437.6" cy="1349.8" r="6.6" fill="#a2a2a2"/><circle cx="449.6" cy="1344.8" r="6.6" fill="#a6a6a6"/><circle cx="461.7" cy="1339.8" r="6.6" fill="#aaaaaa"/><circle cx="473.7" cy="1334.7" r="6.6" fill="#aeaeae"/><circle cx="485.8" cy="1329.6" r="6.6" fill="#b2b2b2"/><circle cx="497.8" cy="1324.5" r="6.6" fill="#b6b6b6"/><circle cx="509.9" cy="1319.3" r="6.6" fill="#bababa"/><circle cx="521.9" cy="1314.1" r="6.6" fill="#bebebe"/><circle cx="534.0" cy="1308.8" r="6.6" fill="#c2c2c2"/><circle cx="546.0" cy="1303.5" r="6.6" fill="#c6c6c6"/><circle cx="558.1" cy="1298.1" r="6.6" fill="#cacaca"/><circle cx="570.1" cy="1292.7" r="6.6" fill="#cecece"/><circle cx="582.2" cy="1287.2" r="6.6" fill="#d2d2d2"/><circle cx="594.2" cy="1281.8" r="6.6" fill="#d6d6d6"/><circle cx="606.3" cy="1276.2" r="6.6" fill="#dadada"/><circle cx="618.3" cy="1270.7" r="6.6" fill="#dedede"/><circle cx="630.4" cy="1265.0" r="6.6" fill="#e2e2e2"/><circle cx="642.4" cy="1259.4" r="6.6" fill="#e6e6e6"/><circle cx="654.5" cy="1253.7" r="6.6" fill="#eaeaea"/><circle cx="666.5" cy="1248.0" r="6.6"/><circle cx="678.6" cy="1242.2" r="6.6"/><circle cx="690.6" cy="1236.4" r="6.6"/><circle cx="702.7" cy="1230.5" r="6.6"/><circle cx="714.7" cy="1224.6" r="6.6"/><circle cx="726.8" cy="1218.7" r="6.6"/><circle cx="738.8" cy="1212.7" r="6.6"/><circle cx="750.9" cy="1206.7" r="6.6"/><circle cx="762.9" cy="1200.6" r="6.6"/><circle cx="775.0" cy="1194.6" r="6.6"/><circle cx="787.0" cy="1188.4" r="6.6"/><circle cx="799.1" cy="1182.3" r="6.6"/><circle cx="811.1" cy="1176.1" r="6.6"/><circle cx="823.2" cy="1169.8" r="6.6"/><circle cx="835.2" cy="1163.6" r="6.6"/><circle cx="847.3" cy="1157.3" r="6.6"/><circle cx="859.3" cy="1150.9" r="6.6"/><circle cx="871.4" cy="1144.6" r="6.6"/><circle cx="883.4" cy="1138.1" r="6.6"/><circle cx="895.5" cy="1131.7" r="6.6"/><circle cx="907.5" cy="1125.2" r="6.6"/><circle cx="919.6" cy="1118.7" r="6.6"/><circle cx="931.6" cy="1112.2" r="6.6"/><circle cx="943.7" cy="1105.6" r="6.6"/><circle cx="955.7" cy="1099.0" r="6.6"/><circle cx="967.8" cy="1092.4" r="6.6"/><circle cx="979.8" cy="1085.7" r="6.6"/><circle cx="991.9" cy="1079.0" r="6.6"/><circle cx="1003.9" cy="1072.3" r="6.6"/><circle cx="1016.0" cy="1065.5" r="6.6"/><circle cx="1028.0" cy="1058.7" r="6.6"/><circle cx="1040.1" cy="1051.9" r="6.6"/><circle cx="1052.1" cy="1045.1" r="6.6"/><circle cx="1064.2" cy="1038.2" r="6.6"/><circle cx="1076.2" cy="1031.3" r="6.6"/><circle cx="1088.3" cy="1024.4" r="6.6"/><circle cx="1100.3" cy="1017.5" r="6.6"/><circle cx="1112.4" cy="1010.5" r="6.6"/><circle cx="1124.4" cy="1003.5" r="6.6"/><circle cx="1136.5" cy="996.5" r="6.6"/><circle cx="1148.5" cy="989.4" r="6.6"/><circle cx="1160.6" cy="982.4" r="6.6"/><circle cx="1172.6" cy="975.3" r="6.6"/><circle cx="1184.7" cy="968.2" r="6.6"/><circle cx="1196.7" cy="961.0" r="6.6"/><circle cx="1208.8" cy="953.9" r="6.6"/><circle cx="1220.8" cy="946.7" r="6.6"/><circle cx="1232.9" cy="939.5" r="6.6"/><circle cx="1244.9" cy="932.3" r="6.6"/><circle cx="1257.0" cy="925.1" r="6.6"/><circle cx="1269.0" cy="917.9" r="6.6"/><circle cx="1281.1" cy="910.6" r="6.6"/><circle cx="1293.1" cy="903.3" r="6.6"/><circle cx="1305.2" cy="896.1" r="6.6"/><circle cx="1317.2" cy="888.8" r="6.6"/><circle cx="1329.3" cy="881.4" r="6.6"/><circle cx="1341.3" cy="874.1" r="6.6"/><circle cx="1353.4" cy="866.8" r="6.6"/><circle cx="1365.4" cy="859.4" r="6.6"/><circle cx="1377.5" cy="852.0" r="6.6"/><circle cx="1389.5" cy="844.7" r="6.6"/><circle cx="1401.6" cy="837.3" r="6.6"/><circle cx="1413.6" cy="829.9" r="6.6"/><circle cx="1425.7" cy="822.5" r="6.6"/><circle cx="1437.7" cy="815.1" r="6.6"/><circle cx="1449.8" cy="807.7" r="6.6"/><circle cx="1461.8" cy="800.3" r="6.6"/><circle cx="1473.9" cy="792.8" r="6.6"/><circle cx="1485.9" cy="785.4" r="6.6"/><circle cx="1498.0" cy="778.0" r="6.6"/><circle cx="1510.0" cy="770.5" r="6.6"/><circle cx="1522.1" cy="763.1" r="6.6"/><circle cx="1534.1" cy="755.7" r="6.6"/><circle cx="1546.2" cy="748.2" r="6.6"/><circle cx="1558.2" cy="740.8" r="6.6"/><circle cx="1570.3" cy="733.4" r="6.6"/><circle cx="1582.3" cy="725.9" r="6.6"/><circle cx="1594.4" cy="718.5" r="6.6"/><circle cx="1606.4" cy="711.1" r="6.6"/><circle cx="1618.5" cy="703.7" r="6.6"/><circle cx="1630.5" cy="696.3" r="6.6"/><circle cx="1642.6" cy="688.8" r="6.6"/><circle cx="1654.6" cy="681.4" r="6.6"/><circle cx="1666.7" cy="674.1" r="6.6"/><circle cx="1678.7" cy="666.7" r="6.6"/><circle cx="1690.8" cy="659.3" r="6.6"/><circle cx="1702.8" cy="652.0" r="6.6"/><circle cx="1714.9" cy="644.6" r="6.6"/><circle cx="1726.9" cy="637.3" r="6.6"/><circle cx="1739.0" cy="630.0" r="6.6"/><circle cx="1751.0" cy="622.7" r="6.6"/></g>
</g>
<g id="frame">
<rect x="378.1" y="62.5" width="1591.9" height="4.6" fill="#cdcdcd"/>
<rect x="378.1" y="67.1" width="1591.9" height="4.7" fill="#333"/>
<rect x="378.1" y="67.1" width="4.6" height="1361.5" fill="#333"/>
<rect x="1961.0" y="67.1" width="9" height="1357.0" fill="#828282"/>
<rect x="382.7" y="1415.0" width="1578.3" height="4.5" fill="#cdcdcd"/>
<rect x="378.1" y="1419.5" width="1591.9" height="4.6" fill="#686868"/>
<rect x="378.1" y="1424.1" width="1587.4" height="4.5" fill="#a0a0a0"/>
</g>
<g id="ticks" stroke="#3a3a3a" stroke-width="4.6">
<line x1="380.4" y1="95.9" x2="395.4" y2="95.9"/>
<line x1="1952.5" y1="95.9" x2="1962.5" y2="95.9" stroke="#3c3c3c"/>
<line x1="380.4" y1="122.8" x2="395.4" y2="122.8"/>
<line x1="1952.5" y1="122.8" x2="1962.5" y2="122.8" stroke="#3c3c3c"/>
<line x1="380.4" y1="149.6" x2="395.4" y2="149.6"/>
<line x1="1952.5" y1="149.6" x2="1962.5" y2="149.6" stroke="#3c3c3c"/>
<line x1="380.4" y1="176.5" x2="395.4" y2="176.5"/>
<line x1="1952.5" y1="176.5" x2="1962.5" y2="176.5" stroke="#3c3c3c"/>
<line x1="380.4" y1="203.4" x2="405.4" y2="203.4" stroke="#8a8a8a" stroke-width="9.2"/>
<line x1="1941.5" y1="203.4" x2="1962.5" y2="203.4" stroke="#8a8a8a" stroke-width="9.2"/>
<line x1="380.4" y1="230.3" x2="395.4" y2="230.3"/>
<line x1="1952.5" y1="230.3" x2="1962.5" y2="230.3" stroke="#3c3c3c"/>
<line x1="380.4" y1="257.1" x2="395.4" y2="257.1"/>
<line x1="1952.5" y1="257.1" x2="1962.5" y2="257.1" stroke="#3c3c3c"/>
<line x1="380.4" y1="284.0" x2="395.4" y2="284.0"/>
<line x1="1952.5" y1="284.0" x2="1962.5" y2="284.0" stroke="#3c3c3c"/>
<line x1="380.4" y1="310.8" x2="395.4" y2="310.8"/>
<line x1="1952.5" y1="310.8" x2="1962.5" y2="310.8" stroke="#3c3c3c"/>
<line x1="380.4" y1="337.7" x2="405.4" y2="337.7"/>
<line x1="1941.5" y1="337.7" x2="1962.5" y2="337.7" stroke="#3c3c3c"/>
<line x1="380.4" y1="365.4" x2="395.4" y2="365.4"/>
<line x1="1952.5" y1="365.4" x2="1962.5" y2="365.4" stroke="#3c3c3c"/>
<line x1="380.4" y1="393.2" x2="395.4" y2="393.2"/>
<line x1="1952.5" y1="393.2" x2="1962.5" y2="393.2" stroke="#3c3c3c"/>
<line x1="380.4" y1="420.9" x2="395.4" y2="420.9"/>
<line x1="1952.5" y1="420.9" x2="1962.5" y2="420.9" stroke="#3c3c3c"/>
<line x1="380.4" y1="448.7" x2="395.4" y2="448.7"/>
<line x1="1952.5" y1="448.7" x2="1962.5" y2="448.7" stroke="#3c3c3c"/>
<line x1="380.4" y1="476.4" x2="405.4" y2="476.4" stroke="#8a8a8a" stroke-width="9.2"/>
<line x1="1941.5" y1="476.4" x2="1962.5" y2="476.4" stroke="#8a8a8a" stroke-width="9.2"/>
<line x1="380.4" y1="503.3" x2="395.4" y2="503.3"/>
<line x1="1952.5" y1="503.3" x2="1962.5" y2="503.3" stroke="#3c3c3c"/>
<line x1="380.4" y1="530.2" x2="395.4" y2="530.2"/>
<line x1="1952.5" y1="530.2" x2="1962.5" y2="530.2" stroke="#3c3c3c"/>
<line x1="380.4" y1="557.2" x2="395.4" y2="557.2"/>
<line x1="1952.5" y1="557.2" x2="1962.5" y2="557.2" stroke="#3c3c3c"/>
<line x1="380.4" y1="584.1" x2="395.4" y2="584.1"/>
<line x1="1952.5" y1="584.1" x2="1962.5" y2="584.1" stroke="#3c3c3c"/>
<line x1="380.4" y1="611.0" x2="405.4" y2="611.0"/>
<line x1="1941.5" y1="611.0" x2="1962.5" y2="611.0" stroke="#3c3c3c"/>
<line x1="380.4" y1="638.0" x2="395.4" y2="638.0"/>
<line x1="1952.5" y1="638.0" x2="1962.5" y2="638.0" stroke="#3c3c3c"/>
<line x1="380.4" y1="665.0" x2="395.4" y2="665.0"/>
<line x1="1952.5" y1="665.0" x2="1962.5" y2="665.0" stroke="#3c3c3c"/>
<line x1="380.4" y1="692.0" x2="395.4" y2="692.0"/>
<line x1="1952.5" y1="692.0" x2="1962.5" y2="692.0" stroke="#3c3c3c"/>
<line x1="380.4" y1="719.0" x2="395.4" y2="719.0"/>
<line x1="1952.5" y1="719.0" x2="1962.5" y2="719.0" stroke="#3c3c3c"/>
<line x1="380.4" y1="746.0" x2="405.4" y2="746.0"/>
<line x1="1941.5" y1="746.0" x2="1962.5" y2="746.0" stroke="#3c3c3c"/>
<line x1="380.4" y1="772.8" x2="395.4" y2="772.8"/>
<line x1="1952.5" y1="772.8" x2="1962.5" y2="772.8" stroke="#3c3c3c"/>
<line x1="380.4" y1="799.7" x2="395.4" y2="799.7"/>
<line x1="1952.5" y1="799.7" x2="1962.5" y2="799.7" stroke="#3c3c3c"/>
<line x1="380.4" y1="826.5" x2="395.4" y2="826.5"/>
<line x1="1952.5" y1="826.5" x2="1962.5" y2="826.5" stroke="#3c3c3c"/>
<line x1="380.4" y1="853.4" x2="395.4" y2="853.4"/>
<line x1="1952.5" y1="853.4" x2="1962.5" y2="853.4" stroke="#3c3c3c"/>
<line x1="380.4" y1="880.2" x2="405.4" y2="880.2"/>
<line x1="1941.5" y1="880.2" x2="1962.5" y2="880.2" stroke="#3c3c3c"/>
<line x1="380.4" y1="907.2" x2="395.4" y2="907.2"/>
<line x1="1952.5" y1="907.2" x2="1962.5" y2="907.2" stroke="#3c3c3c"/>
<line x1="380.4" y1="934.3" x2="395.4" y2="934.3"/>
<line x1="1952.5" y1="934.3" x2="1962.5" y2="934.3" stroke="#3c3c3c"/>
<line x1="380.4" y1="961.3" x2="395.4" y2="961.3"/>
<line x1="1952.5" y1="961.3" x2="1962.5" y2="961.3" stroke="#3c3c3c"/>
<line x1="380.4" y1="988.4" x2="395.4" y2="988.4"/>
<line x1="1952.5" y1="988.4" x2="1962.5" y2="988.4" stroke="#3c3c3c"/>
<line x1="380.4" y1="1015.4" x2="405.4" y2="1015.4"/>
<line x1="1941.5" y1="1015.4" x2="1962.5" y2="1015.4" stroke="#3c3c3c"/>
<line x1="380.4" y1="1042.9" x2="395.4" y2="1042.9"/>
<line x1="1952.5" y1="1042.9" x2="1962.5" y2="1042.9" stroke="#3c3c3c"/>
<line x1="380.4" y1="1070.4" x2="395.4" y2="1070.4"/>
<line x1="1952.5" y1="1070.4" x2="1962.5" y2="1070.4" stroke="#3c3c3c"/>
<line x1="380.4" y1="1097.8" x2="395.4" y2="1097.8"/>
<line x1="1952.5" y1="1097.8" x2="1962.5" y2="1097.8" stroke="#3c3c3c"/>
<line x1="380.4" y1="1125.3" x2="395.4" y2="1125.3"/>
<line x1="1952.5" y1="1125.3" x2="1962.5" y2="1125.3" stroke="#3c3c3c"/>
<line x1="380.4" y1="1152.8" x2="405.4" y2="1152.8"/>
<line x1="1941.5" y1="1152.8" x2="1962.5" y2="1152.8" stroke="#3c3c3c"/>
<line x1="380.4" y1="1180.0" x2="395.4" y2="1180.0"/>
<line x1="1952.5" y1="1180.0" x2="1962.5" y2="1180.0" stroke="#3c3c3c"/>
<line x1="380.4" y1="1207.3" x2="395.4" y2="1207.3"/>
<line x1="1952.5" y1="1207.3" x2="1962.5" y2="1207.3" stroke="#3c3c3c"/>
<line x1="380.4" y1="1234.5" x2="395.4" y2="1234.5"/>
<line x1="1952.5" y1="1234.5" x2="1962.5" y2="1234.5" stroke="#3c3c3c"/>
<line x1="380.4" y1="1261.8" x2="395.4" y2="1261.8"/>
<line x1="1952.5" y1="1261.8" x2="1962.5" y2="1261.8" stroke="#3c3c3c"/>
<line x1="380.4" y1="1289.0" x2="405.4" y2="1289.0"/>
<line x1="1941.5" y1="1289.0" x2="1962.5" y2="1289.0" stroke="#3c3c3c"/>
<line x1="380.4" y1="1315.6" x2="395.4" y2="1315.6"/>
<line x1="1952.5" y1="1315.6" x2="1962.5" y2="1315.6" stroke="#3c3c3c"/>
<line x1="380.4" y1="1342.1" x2="395.4" y2="1342.1"/>
<line x1="1952.5" y1="1342.1" x2="1962.5" y2="1342.1" stroke="#3c3c3c"/>
<line x1="380.4" y1="1368.7" x2="395.4" y2="1368.7"/>
<line x1="1952.5" y1="1368.7" x2="1962.5" y2="1368.7" stroke="#3c3c3c"/>
<line x1="380.4" y1="1395.2" x2="395.4" y2="1395.2"/>
<line x1="1952.5" y1="1395.2" x2="1962.5" y2="1395.2" stroke="#3c3c3c"/>
<line x1="459.7" y1="68.8" x2="459.7" y2="80.8"/>
<line x1="459.7" y1="1408.8" x2="459.7" y2="1422.8"/>
<line x1="538.9" y1="68.8" x2="538.9" y2="80.8"/>
<line x1="538.9" y1="1408.8" x2="538.9" y2="1422.8"/>
<line x1="618.2" y1="68.8" x2="618.2" y2="80.8"/>
<line x1="618.2" y1="1408.8" x2="618.2" y2="1422.8"/>
<line x1="697.4" y1="68.8" x2="697.4" y2="80.8"/>
<line x1="697.4" y1="1408.8" x2="697.4" y2="1422.8"/>
<line x1="776.7" y1="68.8" x2="776.7" y2="92.8"/>
<line x1="776.7" y1="1397.8" x2="776.7" y2="1422.8"/>
<line x1="855.9" y1="68.8" x2="855.9" y2="80.8"/>
<line x1="855.9" y1="1408.8" x2="855.9" y2="1422.8"/>
<line x1="935.2" y1="68.8" x2="935.2" y2="80.8"/>
<line x1="935.2" y1="1408.8" x2="935.2" y2="1422.8"/>
<line x1="1014.4" y1="68.8" x2="1014.4" y2="80.8"/>
<line x1="1014.4" y1="1408.8" x2="1014.4" y2="1422.8"/>
<line x1="1093.7" y1="68.8" x2="1093.7" y2="80.8"/>
<line x1="1093.7" y1="1408.8" x2="1093.7" y2="1422.8"/>
<line x1="1172.9" y1="68.8" x2="1172.9" y2="92.8"/>
<line x1="1172.9" y1="1397.8" x2="1172.9" y2="1422.8"/>
<line x1="1252.2" y1="68.8" x2="1252.2" y2="80.8"/>
<line x1="1252.2" y1="1408.8" x2="1252.2" y2="1422.8"/>
<line x1="1331.5" y1="68.8" x2="1331.5" y2="80.8"/>
<line x1="1331.5" y1="1408.8" x2="1331.5" y2="1422.8"/>
<line x1="1410.7" y1="68.8" x2="1410.7" y2="80.8"/>
<line x1="1410.7" y1="1408.8" x2="1410.7" y2="1422.8"/>
<line x1="1490.0" y1="68.8" x2="1490.0" y2="80.8"/>
<line x1="1490.0" y1="1408.8" x2="1490.0" y2="1422.8"/>
<line x1="1569.2" y1="68.8" x2="1569.2" y2="92.8"/>
<line x1="1569.2" y1="1397.8" x2="1569.2" y2="1422.8"/>
<line x1="1648.5" y1="68.8" x2="1648.5" y2="80.8"/>
<line x1="1648.5" y1="1408.8" x2="1648.5" y2="1422.8"/>
<line x1="1727.7" y1="68.8" x2="1727.7" y2="80.8"/>
<line x1="1727.7" y1="1408.8" x2="1727.7" y2="1422.8"/>
<line x1="1807.0" y1="68.8" x2="1807.0" y2="80.8"/>
<line x1="1807.0" y1="1408.8" x2="1807.0" y2="1422.8"/>
<line x1="1886.2" y1="68.8" x2="1886.2" y2="80.8"/>
<line x1="1886.2" y1="1408.8" x2="1886.2" y2="1422.8"/>
</g>
<g id="ylabels">
<text transform="translate(189.5 97.5) scale(0.91 1)" font-size="72" textLength="193.4" lengthAdjust="spacing">0.200</text>
<text transform="translate(189.5 233.1) scale(0.91 1)" font-size="72" textLength="193.4" lengthAdjust="spacing">0.180</text>
<text transform="translate(189.5 368.6) scale(0.91 1)" font-size="72" textLength="193.4" lengthAdjust="spacing">0.160</text>
<text transform="translate(189.5 504.2) scale(0.91 1)" font-size="72" textLength="193.4" lengthAdjust="spacing">0.140</text>
<text transform="translate(189.5 639.7) scale(0.91 1)" font-size="72" textLength="193.4" lengthAdjust="spacing">0.120</text>
<text transform="translate(189.5 775.2) scale(0.91 1)" font-size="72" textLength="193.4" lengthAdjust="spacing">0.100</text>
<text transform="translate(189.5 910.8) scale(0.91 1)" font-size="72" textLength="193.4" lengthAdjust="spacing">0.080</text>
<text transform="translate(189.5 1046.4) scale(0.91 1)" font-size="72" textLength="193.4" lengthAdjust="spacing">0.060</text>
<text transform="translate(189.5 1181.9) scale(0.91 1)" font-size="72" textLength="193.4" lengthAdjust="spacing">0.040</text>
<text transform="translate(189.5 1317.5) scale(0.91 1)" font-size="72" textLength="193.4" lengthAdjust="spacing">0.020</text>
<text transform="translate(189.5 1453.0) scale(0.91 1)" font-size="72" textLength="193.4" lengthAdjust="spacing">0.000</text>
</g>
<g id="xlabels">
<text transform="translate(331.4 1515.0) scale(0.91 1)" font-size="72" textLength="107.7" lengthAdjust="spacing">0.0</text>
<text transform="translate(655.2 1515.0) scale(0.91 1)" font-size="72" textLength="233.0" lengthAdjust="spacing">5.0x10</text>
<text x="870.2" y="1479.0" font-size="50" text-anchor="start" textLength="28.0" lengthAdjust="spacingAndGlyphs">4</text>
<text transform="translate(1051.4 1515.0) scale(0.91 1)" font-size="72" textLength="233.0" lengthAdjust="spacing">1.0x10</text>
<text x="1266.4" y="1479.0" font-size="50" text-anchor="start" textLength="28.0" lengthAdjust="spacingAndGlyphs">5</text>
<text transform="translate(1447.7 1515.0) scale(0.91 1)" font-size="72" textLength="233.0" lengthAdjust="spacing">1.5x10</text>
<text x="1662.7" y="1479.0" font-size="50" text-anchor="start" textLength="28.0" lengthAdjust="spacingAndGlyphs">5</text>
<text transform="translate(1842.0 1515.0) scale(0.91 1)" font-size="72" textLength="233.0" lengthAdjust="spacing">2.0x10</text>
<text x="2057.0" y="1479.0" font-size="50" text-anchor="start" textLength="28.0" lengthAdjust="spacingAndGlyphs">5</text>
</g>
<g id="titles">
<text x="1023.5" y="1640" font-size="73"><tspan textLength="166" lengthAdjust="spacingAndGlyphs">Time</tspan><tspan x="1233.5" font-size="78" textLength="83" lengthAdjust="spacingAndGlyphs">(s)</tspan></text>
<text transform="translate(80 839) rotate(-90)" font-size="70" textLength="199" lengthAdjust="spacingAndGlyphs">Strain</text>
</g>
<g id="legend">
<circle cx="477" cy="157.5" r="12" fill="#060606"/>
<circle cx="477" cy="233" r="8.5" fill="#fff" stroke="#222" stroke-width="5.5"/>
<path d="M463.5 314.5h27M477 301v27" stroke="#111" stroke-width="6.5" fill="none"/>
<text x="530.0" y="177.0" font-size="56" text-anchor="start" textLength="360.0" lengthAdjust="spacingAndGlyphs">As-fabricated</text>
<text x="530.0" y="253.0" font-size="56" text-anchor="start" textLength="563.0" lengthAdjust="spacingAndGlyphs">Aged:125C, 24 hours</text>
<text x="530.0" y="332.0" font-size="56" text-anchor="start" textLength="563.0" lengthAdjust="spacingAndGlyphs">Aged:150C, 24 hours</text>
</g>
<g id="annotations">
<text x="1357.0" y="527.0" font-size="55" text-anchor="start" textLength="236.0" lengthAdjust="spacingAndGlyphs">17.7 MPa</text>
<text x="1639.0" y="600.0" font-size="55" text-anchor="start" textLength="236.0" lengthAdjust="spacingAndGlyphs">17.9 MPa</text>
<text x="1703.0" y="749.0" font-size="55" text-anchor="start" textLength="236.0" lengthAdjust="spacingAndGlyphs">17.8 MPa</text>
<text x="1698.0" y="894.0" font-size="55" text-anchor="start" textLength="236.0" lengthAdjust="spacingAndGlyphs">17.7 MPa</text>
<text x="1702.0" y="1158.0" font-size="55" text-anchor="start" textLength="236.0" lengthAdjust="spacingAndGlyphs">17.8 MPa</text>
<text x="1698.0" y="1314.0" font-size="55" text-anchor="start" textLength="236.0" lengthAdjust="spacingAndGlyphs">17.7 MPa</text>
</g>
</g></svg></body></html>
